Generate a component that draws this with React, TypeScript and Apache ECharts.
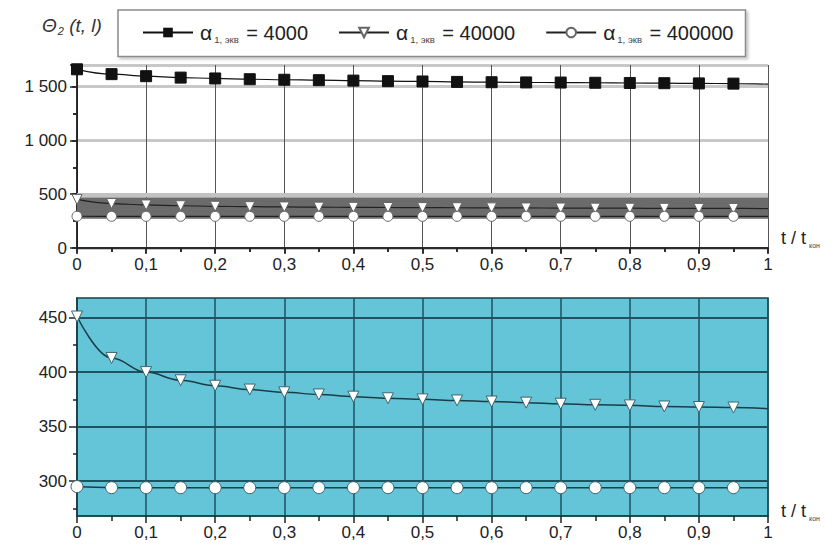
import React, { useEffect, useRef } from 'react';
import * as echarts from 'echarts';

// t / t_кон
const tValues = [0, 0.05, 0.1, 0.15, 0.2, 0.25, 0.3, 0.35, 0.4, 0.45, 0.5, 0.55, 0.6, 0.65, 0.7, 0.75, 0.8, 0.85, 0.9, 0.95, 1];
// Θ2(t, l) for α1,экв = 4000
const theta4000 = [1660, 1615, 1596, 1583, 1575, 1568, 1563, 1559, 1555, 1550, 1547, 1543, 1540, 1538, 1537, 1535, 1533, 1531, 1529, 1527, 1522];
// α1,экв = 40000
const theta40000 = [451, 413, 400, 392.5, 387.5, 384, 381.5, 379.5, 377.5, 376, 375, 374, 373, 372, 371, 370, 369.5, 368.5, 368, 367.5, 366.5];
// α1,экв = 400000
const theta400000 = [295, 294, 294, 294, 294, 294, 294, 294, 294, 294, 294, 294, 294, 294, 294, 294, 294, 294, 294, 294, 294];

const alphaValues = ['4000', '40000', '400000'];
const seriesNames = alphaValues.map((a) => `α1, экв = ${a}`);
const topYTicks = [0, 500, 1000, 1500];
const bottomYTicks = [300, 350, 400, 450];
const bottomYMinorTicks = [275, 325, 375, 425];

const FONT = '"Liberation Sans", Arial, sans-serif';

function pts(values: number[]) {
  return tValues.map((t, i) =>
    i === tValues.length - 1 ? { value: [t, values[i]], symbol: 'none' } : { value: [t, values[i]] }
  );
}

const fmtX = (v: number) => (v === 0 ? '0' : v === 1 ? '1' : v.toFixed(1).replace('.', ','));
const fmtTopY = (v: number) =>
  v >= 1000 ? `${Math.floor(v / 1000)} ${String(v % 1000).padStart(3, '0')}` : String(v);

export default function App() {
  const ref = useRef<HTMLDivElement>(null);
  useEffect(() => {
    if (!ref.current) return;
    const chart = echarts.init(ref.current, undefined, { renderer: 'svg' });
    const labelStyle = { fontFamily: FONT, fontSize: 17, color: '#222' };
    const teal = '#1d5360';
    const option: any = {
      animation: false,
      backgroundColor: '#fff',
      grid: [
        { left: 69, right: 61, top: 57, height: 183, show: false },
        { left: 69, right: 61, top: 290, height: 218, show: true, backgroundColor: '#64c4d8', borderColor: '#1b3f48', borderWidth: 1.5 },
      ],
      legend: {
        left: 110,
        top: 2,
        data: seriesNames,
        borderColor: '#8a8a8a',
        borderWidth: 1.5,
        padding: [12, 12, 12, 24],
        itemGap: 30,
        itemWidth: 50,
        itemHeight: 12,
        shadowColor: 'rgba(0,0,0,0.25)',
        shadowBlur: 3,
        shadowOffsetX: 2,
        shadowOffsetY: 2,
        backgroundColor: '#fff',
        formatter: (name: string) => {
          const v = name.split('= ')[1];
          return `{a|α}{s|1, экв}{e| = ${v}}`;
        },
        textStyle: {
          rich: {
            a: { fontFamily: FONT, fontSize: 21, color: '#222', padding: [0, 0, 0, 2] },
            s: { fontFamily: FONT, fontSize: 9.5, color: '#444', padding: [14, 2, 0, 2] },
            e: { fontFamily: FONT, fontSize: 20, color: '#222' },
          },
        },
      },
      graphic: [
        {
          type: 'text',
          left: 34,
          top: 8,
          style: {
            text: '{a|Θ}{s|2}{a| (t, l)}',
            rich: {
              a: { fontFamily: FONT, fontStyle: 'italic', fontSize: 19, fill: '#333' },
              s: { fontFamily: FONT, fontStyle: 'italic', fontSize: 11, fill: '#333', padding: [11, 0, 0, 1] },
            },
          },
        },
        {
          type: 'text',
          x: 773,
          y: 230,
          style: {
            text: '{a|t / t}{s|кон}',
            verticalAlign: 'middle',
            rich: {
              a: { fontFamily: FONT, fontSize: 18, fill: '#222' },
              s: { fontFamily: FONT, fontSize: 7, fill: '#444', padding: [14, 0, 0, 3] },
            },
          },
        },
        {
          type: 'text',
          x: 773,
          y: 503,
          style: {
            text: '{a|t / t}{s|кон}',
            verticalAlign: 'middle',
            rich: {
              a: { fontFamily: FONT, fontSize: 18, fill: '#222' },
              s: { fontFamily: FONT, fontSize: 7, fill: '#444', padding: [14, 0, 0, 3] },
            },
          },
        },
      ],
      xAxis: [
        {
          type: 'value', gridIndex: 0, min: 0, max: 1, interval: 0.1,
          axisLine: { show: true, lineStyle: { color: '#222', width: 1.5 } },
          axisTick: { show: true, length: 6, lineStyle: { color: '#222', width: 1.5 } },
          minorTick: { show: true, splitNumber: 2, length: 4, lineStyle: { color: '#222', width: 1.5 } },
          axisLabel: { ...labelStyle, margin: 8, formatter: fmtX },
          splitLine: { show: true, lineStyle: { color: '#555', width: 1 } },
        },
        {
          type: 'value', gridIndex: 0, position: 'top', min: 0, max: 1, interval: 0.1,
          axisLine: { show: true, lineStyle: { color: '#222', width: 1.5 } },
          axisTick: { show: true, inside: true, length: 5, lineStyle: { color: '#222', width: 1.5 } },
          minorTick: { show: true, splitNumber: 2, length: 4, lineStyle: { color: '#222', width: 1.5 } },
          axisLabel: { show: false },
          splitLine: { show: false },
        },
        {
          type: 'value', gridIndex: 1, min: 0, max: 1, interval: 0.1,
          axisLine: { show: true, lineStyle: { color: '#1b3f48', width: 1.5 } },
          axisTick: { show: true, length: 7, lineStyle: { color: '#222', width: 1.5 } },
          minorTick: { show: true, splitNumber: 2, length: 5, lineStyle: { color: '#222', width: 1.5 } },
          axisLabel: { ...labelStyle, margin: 8, formatter: fmtX },
          splitLine: { show: true, lineStyle: { color: teal, width: 1.5 } },
        },
      ],
      yAxis: [
        {
          type: 'value', gridIndex: 0, min: 0, max: 1700, interval: 500,
          axisLine: { show: true, lineStyle: { color: '#222', width: 1.5 } },
          axisTick: { show: true, length: 7, lineStyle: { color: '#222', width: 1.5 } },
          minorTick: { show: true, splitNumber: 2, length: 4, lineStyle: { color: '#222', width: 1.5 } },
          axisLabel: { ...labelStyle, margin: 10, formatter: (v: number) => (topYTicks.includes(v) ? fmtTopY(v) : '') },
          splitLine: { show: true, lineStyle: { color: '#c8c8c8', width: 3 } },
        },
        {
          type: 'value', gridIndex: 0, position: 'right', min: 0, max: 1700, interval: 500,
          axisLine: { show: true, lineStyle: { color: '#222', width: 1.5 } },
          axisTick: { show: true, inside: true, length: 5, lineStyle: { color: '#222', width: 1.5 } },
          minorTick: { show: true, splitNumber: 2, length: 4, lineStyle: { color: '#222', width: 1.5 } },
          axisLabel: { show: false },
          splitLine: { show: false },
        },
        {
          type: 'value', gridIndex: 1, position: 'left', min: 268, max: 468,
          axisLine: { show: true, lineStyle: { color: '#1b3f48', width: 1.5 } },
          axisTick: { show: true, length: 8, customValues: bottomYTicks, lineStyle: { color: '#222', width: 1.5 } },
          axisLabel: { ...labelStyle, margin: 10, customValues: bottomYTicks },
          splitLine: { show: true, lineStyle: { color: teal, width: 2 } },
        },
        {
          type: 'value', gridIndex: 1, position: 'left', min: 268, max: 468,
          axisLine: { show: false },
          axisTick: { show: true, length: 4, customValues: bottomYMinorTicks, lineStyle: { color: '#222', width: 1.5 } },
          axisLabel: { show: false },
          splitLine: { show: false },
        },
      ],
      series: [
        {
          name: seriesNames[0], type: 'line', xAxisIndex: 0, yAxisIndex: 0, smooth: 0.4, smoothMonotone: 'x',
          data: pts(theta4000),
          symbol: 'rect', symbolSize: 11,
          lineStyle: { color: '#111', width: 1.2 },
          itemStyle: { color: '#111', borderColor: '#111' },
          markArea: {
            silent: true,
            data: [
              [{ yAxis: 470, itemStyle: { color: '#c2c2c2' } }, { yAxis: 512 }],
              [{ yAxis: 272, itemStyle: { color: '#6b6b6b' } }, { yAxis: 470 }],
            ],
          },
        },
        {
          name: seriesNames[1], type: 'line', xAxisIndex: 0, yAxisIndex: 0, smooth: 0.4, smoothMonotone: 'x',
          data: pts(theta40000),
          symbol: 'triangle', symbolRotate: 180, symbolSize: 10,
          lineStyle: { color: '#222', width: 1.2 },
          itemStyle: { color: '#fff', borderColor: '#666', borderWidth: 1 },
        },
        {
          name: seriesNames[2], type: 'line', xAxisIndex: 0, yAxisIndex: 0, smooth: 0.4, smoothMonotone: 'x',
          data: pts(theta400000),
          symbol: 'circle', symbolSize: 10,
          lineStyle: { color: '#222', width: 1.2 },
          itemStyle: { color: '#fff', borderColor: '#666', borderWidth: 1 },
        },
        {
          name: seriesNames[1], type: 'line', xAxisIndex: 2, yAxisIndex: 2, smooth: 0.4, smoothMonotone: 'x',
          data: pts(theta40000),
          symbol: 'triangle', symbolRotate: 180, symbolSize: 11,
          lineStyle: { color: '#1a3e47', width: 1.5 },
          itemStyle: { color: '#fff', borderColor: '#3c6570', borderWidth: 1 },
        },
        {
          name: seriesNames[2], type: 'line', xAxisIndex: 2, yAxisIndex: 2, smooth: 0.4, smoothMonotone: 'x',
          data: pts(theta400000),
          symbol: 'circle', symbolSize: 12,
          lineStyle: { color: '#1a3e47', width: 1.5 },
          itemStyle: { color: '#fff', borderColor: '#3c6570', borderWidth: 1 },
        },
      ],
    };
    chart.setOption(option);
    return () => chart.dispose();
  }, []);
  return <div ref={ref} style={{ width: 821, height: 535 }} />;
}
